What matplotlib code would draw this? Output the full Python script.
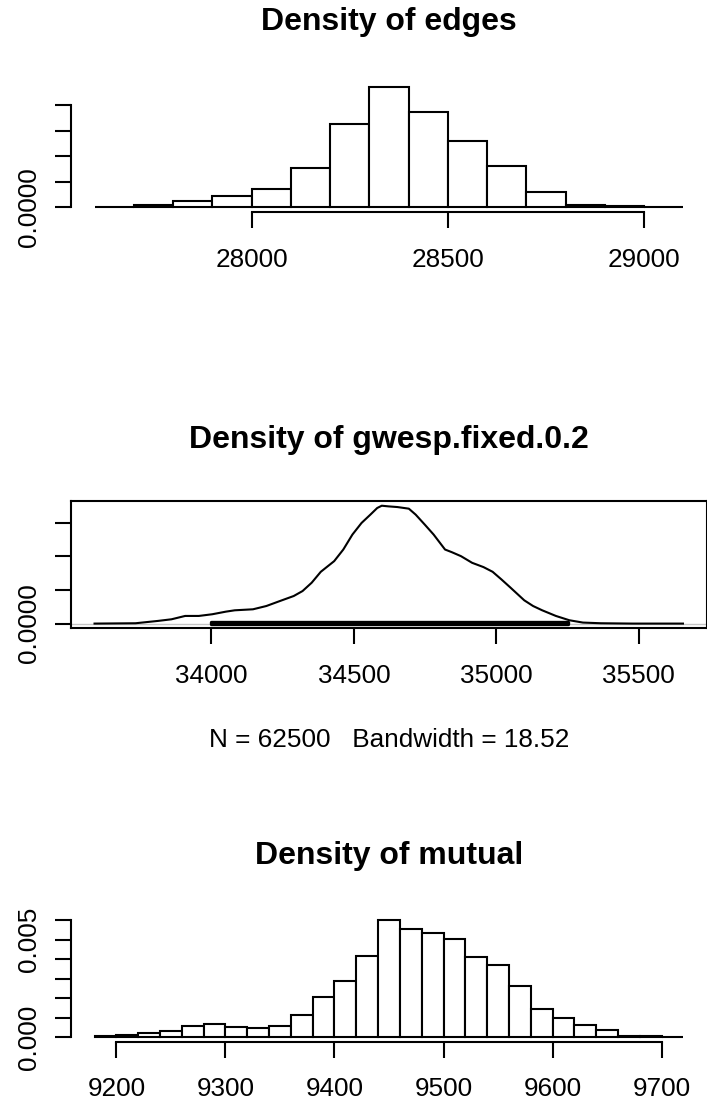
import matplotlib
matplotlib.use("Agg")
import matplotlib.pyplot as plt
import numpy as np

plt.rcParams['font.family'] = ['Liberation Sans', 'DejaVu Sans']

# edges: density histogram
edges_breaks = [27600, 27700, 27800, 27900, 28000, 28100, 28200, 28300,
                28400, 28500, 28600, 28700, 28800, 28900, 29000, 29100]
edges_density = [0.0000135, 0.000054, 0.000121, 0.000215, 0.000364, 0.000761,
                 0.00163, 0.002357, 0.001872, 0.001293, 0.000815, 0.000303,
                 0.000054, 0.00002, 0.0000067]
edges_xticks = [28000, 28500, 29000]
edges_yticks = [0, 0.0005, 0.001, 0.0015, 0.002]
edges_ylabels = ["0.0000", "", "", "", ""]

# gwesp.fixed.0.2: kernel density curve
gwesp_x = [33590, 33734, 33813, 33860, 33908, 33956, 34003, 34051, 34082, 34146,
           34193, 34241, 34289, 34320, 34352, 34384, 34431, 34463, 34495, 34527,
           34558, 34582, 34598, 34622, 34653, 34693, 34717, 34749, 34780, 34820,
           34844, 34876, 34915, 34955, 34987, 35018, 35050, 35098, 35129, 35161,
           35209, 35256, 35304, 35367, 35478, 35655]
gwesp_y = [0.0, 0.000005, 0.00004, 0.000064, 0.000114, 0.000114, 0.000139, 0.000178,
           0.000198, 0.000213, 0.000262, 0.000337, 0.000411, 0.000485, 0.000609,
           0.000772, 0.000931, 0.001104, 0.001327, 0.0015, 0.001624, 0.001723,
           0.001757, 0.001747, 0.001737, 0.001713, 0.001624, 0.001475, 0.001327,
           0.001104, 0.001064, 0.001005, 0.000906, 0.000842, 0.000772, 0.000658,
           0.000535, 0.000347, 0.000262, 0.000198, 0.000114, 0.00005, 0.000015,
           0.000005, 0.0, 0.0]
gwesp_obs_range = [34000, 35250]
gwesp_xticks = [34000, 34500, 35000, 35500]
gwesp_yticks = [0, 0.0005, 0.001, 0.0015]
gwesp_ylabels = ["0.0000", "", "", ""]
gwesp_xlabel = "N = 62500   Bandwidth = 18.52"

# mutual: density histogram
mutual_breaks = [9180, 9200, 9220, 9240, 9260, 9280, 9300, 9320, 9340, 9360,
                 9380, 9400, 9420, 9440, 9460, 9480, 9500, 9520, 9540, 9560,
                 9580, 9600, 9620, 9640, 9660, 9680, 9700, 9720]
mutual_density = [0.000051, 0.000119, 0.000221, 0.000307, 0.000579, 0.000681,
                  0.000545, 0.00046, 0.000596, 0.001124, 0.002044, 0.002879,
                  0.004157, 0.006, 0.005554, 0.005349, 0.005043, 0.004123,
                  0.00368, 0.002624, 0.001431, 0.000971, 0.000613, 0.000375,
                  0.000085, 0.000051, 0.000034]
mutual_xticks = [9200, 9300, 9400, 9500, 9600, 9700]
mutual_yticks = [0, 0.001, 0.002, 0.003, 0.004, 0.005, 0.006]
mutual_ylabels = ["0.000", "", "", "", "", "0.005", ""]

W, H = 707, 1107
LW = 1.5
fig = plt.figure(figsize=(W / 100, H / 100), dpi=100)


def add_axes_px(left, top, right, bottom):
    return fig.add_axes([left / W, 1 - bottom / H, (right - left) / W, (bottom - top) / H])


def r_range(lo, hi):
    # R style 4% padding
    d = 0.04 * (hi - lo)
    return lo - d, hi + d


def style_axis(ax, xticks, yticks, ylabels, boxed=False):
    ax.set_xticks(xticks)
    ax.set_xticklabels([str(t) for t in xticks])
    ax.set_yticks(yticks)
    ax.set_yticklabels(ylabels, rotation=90, va='center')
    ax.tick_params(axis='both', length=11.5, width=LW, labelsize=18.8, direction='out')
    ax.tick_params(axis='x', pad=14)
    ax.tick_params(axis='y', pad=10)
    for s in ax.spines.values():
        s.set_linewidth(LW)
    if not boxed:
        ax.spines['top'].set_visible(False)
        ax.spines['right'].set_visible(False)
        ax.spines['bottom'].set_bounds(xticks[0], xticks[-1])
        ax.spines['left'].set_bounds(yticks[0], yticks[-1])


def draw_hist(ax, breaks, dens):
    widths = np.diff(breaks)
    ax.bar(breaks[:-1], dens, width=widths, align='edge', facecolor='white',
           edgecolor='black', linewidth=LW)
    ax.set_xlim(r_range(breaks[0], breaks[-1]))
    ax.set_ylim(r_range(0, max(dens)))


def title(text, baseline):
    fig.text(389 / W, 1 - baseline / H, text, ha='center', va='baseline',
             fontsize=23, fontweight='bold')


# panel 1
ax1 = add_axes_px(71, 82.3, 707, 212.1)
draw_hist(ax1, edges_breaks, edges_density)
style_axis(ax1, edges_xticks, edges_yticks, edges_ylabels)
title("Density of edges", 30)

# panel 2
ax2 = add_axes_px(71, 501, 706.5, 628.3)
ax2.axhline(0, color='#c4c4c4', linewidth=1.0, zorder=1)
ax2.plot(gwesp_x, gwesp_y, color='black', linewidth=LW, zorder=3)
rug_h = max(gwesp_y) / 100
ax2.fill_between(gwesp_obs_range, 0, rug_h, color='black', linewidth=2.4, zorder=2)
ax2.set_xlim(r_range(min(gwesp_x), max(gwesp_x)))
ax2.set_ylim(r_range(0, max(gwesp_y)))
style_axis(ax2, gwesp_xticks, gwesp_yticks, gwesp_ylabels, boxed=True)
title("Density of gwesp.fixed.0.2", 448)
fig.text(389 / W, 1 - 747 / H, gwesp_xlabel, ha='center', va='baseline', fontsize=18.8)

# panel 3
ax3 = add_axes_px(71, 915.3, 707, 1042)
draw_hist(ax3, mutual_breaks, mutual_density)
style_axis(ax3, mutual_xticks, mutual_yticks, mutual_ylabels)
title("Density of mutual", 864)

fig.savefig("out.png", dpi=100)
